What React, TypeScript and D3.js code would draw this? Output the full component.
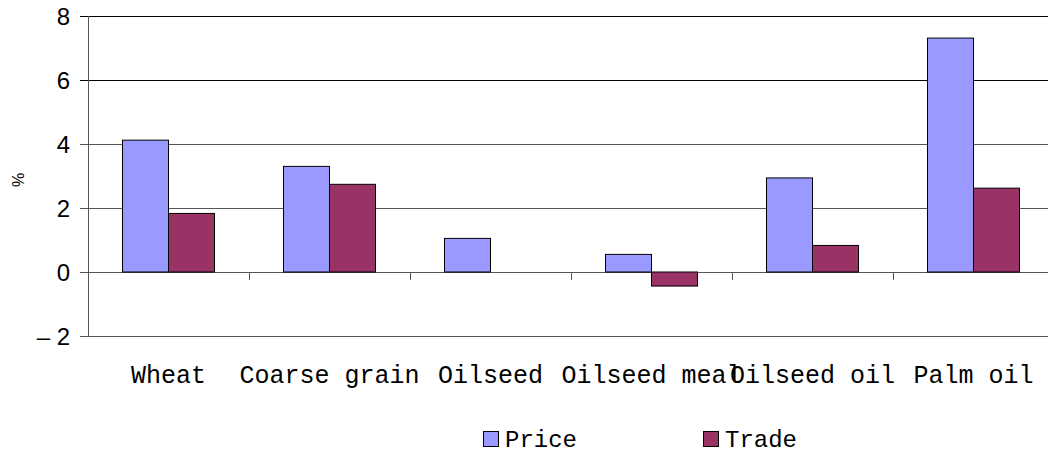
import React from "react";
import * as d3 from "d3";

const categories = ["Wheat", "Coarse grain", "Oilseed", "Oilseed meal", "Oilseed oil", "Palm oil"];
const seriesNames = ["Price", "Trade"];
const priceValues = [4.12, 3.3, 1.05, 0.55, 2.94, 7.31];
const tradeValues = [1.83, 2.74, 0, -0.44, 0.83, 2.62];
const yTicks = [-2, 0, 2, 4, 6, 8];
const colors = ["#9999FF", "#993366"];

const W = 1048;
const H = 456;
const left = 88;
const right = 1054;
const top = 16;
const bottom = 336;

export default function App() {
  const x = d3.scaleBand<string>().domain(categories).range([left, right]).padding(0);
  const x1 = d3
    .scaleBand<string>()
    .domain(seriesNames)
    .range([0, x.bandwidth()])
    .paddingInner(0)
    .paddingOuter(0.75);
  const y = d3.scaleLinear().domain([-2, 8]).range([bottom, top]);
  const series = [priceValues, tradeValues];
  const mono = "'Liberation Mono', 'DejaVu Sans Mono', monospace";
  const sans = "Arial, 'Liberation Sans', sans-serif";
  const boundaries = d3.range(categories.length + 1).map((i) => left + i * x.step());

  return (
    <svg
      width={W}
      height={H}
      style={{ position: "absolute", left: 0, top: 0, display: "block", background: "#fff" }}
    >
      {/* gridlines */}
      {yTicks.map((t) => (
        <line
          key={"g" + t}
          x1={left - 8}
          x2={right}
          y1={y(t)}
          y2={y(t)}
          stroke={t >= 6 ? "#000" : "#555"}
          strokeWidth={1}
          shapeRendering="crispEdges"
        />
      ))}
      {/* y axis line */}
      <line x1={left} x2={left} y1={top} y2={bottom} stroke="#555" shapeRendering="crispEdges" />
      {/* y tick labels */}
      {yTicks.map((t) => (
        <text
          key={"l" + t}
          x={70}
          y={y(t) + 8.5}
          textAnchor="end"
          fontFamily={sans}
          fontSize={24}
          fill="#000"
        >
          {t < 0 ? "\u2013 " + Math.abs(t) : String(t)}
        </text>
      ))}
      <text
        transform={`translate(24,180) rotate(-90)`}
        textAnchor="middle"
        fontFamily={sans}
        fontSize={16}
        fill="#000"
      >
        %
      </text>
      {/* bars */}
      {categories.map((c, i) => (
        <g key={c}>
          {series.map((vals, s) => {
            const v = vals[i];
            if (v === 0) return null;
            const bx = (x(c) as number) + (x1(seriesNames[s]) as number);
            const y0 = y(Math.max(0, v));
            const y1v = y(Math.min(0, v));
            return (
              <rect
                key={s}
                x={bx}
                y={y0}
                width={x1.bandwidth()}
                height={y1v - y0}
                fill={colors[s]}
                stroke="#000"
                strokeWidth={1}
              />
            );
          })}
        </g>
      ))}
      {/* category ticks on zero line */}
      {boundaries.map((bx, i) => (
        <line
          key={"t" + i}
          x1={bx}
          x2={bx}
          y1={y(0)}
          y2={y(0) + 8}
          stroke="#555"
          shapeRendering="crispEdges"
        />
      ))}
      {/* category labels */}
      {categories.map((c) => (
        <text
          key={"c" + c}
          x={(x(c) as number) + x.bandwidth() / 2}
          y={383}
          textAnchor="middle"
          fontFamily={mono}
          fontSize={25}
          fill="#000"
        >
          {c}
        </text>
      ))}
      {/* legend */}
      {seriesNames.map((n, s) => {
        const lx = s === 0 ? 483 : 703;
        return (
          <g key={"lg" + n}>
            <rect x={lx + 0.5} y={431.5} width={15} height={15} fill={colors[s]} stroke="#000" strokeWidth={1} />
            <text x={lx + 22} y={447} fontFamily={mono} fontSize={24} fill="#000">
              {n}
            </text>
          </g>
        );
      })}
    </svg>
  );
}
